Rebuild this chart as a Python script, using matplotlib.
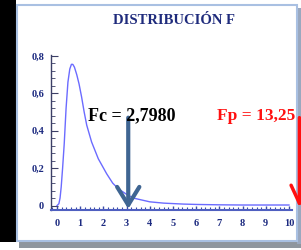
import matplotlib.pyplot as plt
from matplotlib.patches import Rectangle
from matplotlib.ticker import MultipleLocator, FuncFormatter

# F distribution curve
f_x = [0, 0.08, 0.13, 0.18, 0.24, 0.31, 0.39, 0.47, 0.55, 0.62, 0.68, 0.75,
       0.85, 0.95, 1.06, 1.17, 1.28, 1.49, 1.78, 2.14, 2.4, 2.64, 3.0, 3.29,
       4.0, 4.6, 5.44, 6.0, 7.0, 8.0, 9.0, 10.0]
f_y = [0, 0.01, 0.04, 0.1, 0.2, 0.33, 0.52, 0.66, 0.73, 0.755, 0.755, 0.74,
       0.7, 0.65, 0.58, 0.5, 0.43, 0.34, 0.25, 0.17, 0.12, 0.09, 0.06, 0.04,
       0.02, 0.013, 0.008, 0.006, 0.004, 0.003, 0.003, 0.003]

fc_label = "Fc = 2,7980"
fp_label = "Fp = 13,25"
fc_arrow_x = 3.07
fp_arrow_x = 10.45

W, H = 301, 250
fig = plt.figure(figsize=(W / 100, H / 100), dpi=100)
fig.patch.set_facecolor("white")


def px(x, y, w, h):
    # pixel box (top-left origin) -> figure fraction rectangle
    return (x / W, 1 - (y + h) / H), w / W, h / H


# black strip, shadow and bordered white panel
for (x, y, w, h, fc, ec, lw) in [
    (0, 0, 16, 242, "black", "none", 0),
    (19, 242, 282, 6, "#8f969e", "none", 0),
    (297, 8, 4, 236, "#9aa8bf", "none", 0),
    (17, 5, 280, 236, "white", "#a9c0e2", 1.5),
]:
    xy, ww, hh = px(x, y, w, h)
    fig.patches.append(Rectangle(xy, ww, hh, transform=fig.transFigure,
                                 facecolor=fc, edgecolor=ec, linewidth=lw,
                                 zorder=-5))

ax = fig.add_axes([51 / W, 1 - 209.5 / H, 241 / W, 154.5 / H])
ax.patch.set_alpha(0)
ax.plot(f_x, f_y, color="#6b6bff", lw=1)
ax.set_xlim(-0.26, 10.13)
ax.set_ylim(-0.021, 0.805)

for s in ["top", "right"]:
    ax.spines[s].set_visible(False)
ax.spines["bottom"].set_color("#4f5fc0")
ax.spines["bottom"].set_linewidth(1.5)
ax.spines["left"].set_color("#3c3f66")
ax.spines["left"].set_linewidth(1)

ax.xaxis.set_major_locator(MultipleLocator(1))
ax.xaxis.set_minor_locator(MultipleLocator(0.2))
ax.yaxis.set_major_locator(MultipleLocator(0.2))
ax.yaxis.set_minor_locator(MultipleLocator(0.04))
ax.yaxis.set_major_formatter(FuncFormatter(
    lambda v, p: "0" if abs(v) < 1e-9 else f"{v:.1f}".replace(".", ",")))
ax.tick_params(axis="x", which="both", direction="in", colors="#3a4aa8",
               labelcolor="#1c2a80", pad=7)
ax.tick_params(axis="x", which="major", length=3, width=1)
ax.tick_params(axis="x", which="minor", length=2, width=0.8)
ax.tick_params(axis="y", which="both", direction="in", colors="#3c3f66",
               labelcolor="#1c2a80", pad=5)
ax.tick_params(axis="y", which="major", length=5, width=0.8)
ax.tick_params(axis="y", which="minor", length=3, width=0.6)
for lab in ax.get_xticklabels() + ax.get_yticklabels():
    lab.set_family("Liberation Serif")
    lab.set_weight("bold")
    lab.set_fontsize(7.5)

fig.text(174 / W, 1 - 20 / H, "DISTRIBUCIÓN F", ha="center", va="center",
         family="Liberation Serif", weight="bold", fontsize=10.5,
         color="#1f2b7c")

ax.annotate("", xy=(fc_arrow_x, -0.018), xytext=(fc_arrow_x, 0.47),
            arrowprops=dict(arrowstyle="->,head_length=1.3,head_width=0.8",
                            lw=3, color="#3f6592", mutation_scale=10,
                            shrinkA=0, shrinkB=0))
ax.annotate("", xy=(fp_arrow_x, -0.01), xytext=(fp_arrow_x, 0.47),
            arrowprops=dict(arrowstyle="->,head_length=1.3,head_width=0.6",
                            lw=2.5, color="#ff1010", mutation_scale=10,
                            shrinkA=0, shrinkB=0),
            annotation_clip=False)

ax.text(1.34, 0.48, fc_label, ha="left", va="center", family="Liberation Serif",
        weight="bold", fontsize=13, color="black")
ax.text(6.9, 0.48, fp_label, ha="left", va="center", family="Liberation Serif",
        weight="bold", fontsize=12.5, color="#ff1010", clip_on=False)

fig.savefig("out.png", dpi=100)
